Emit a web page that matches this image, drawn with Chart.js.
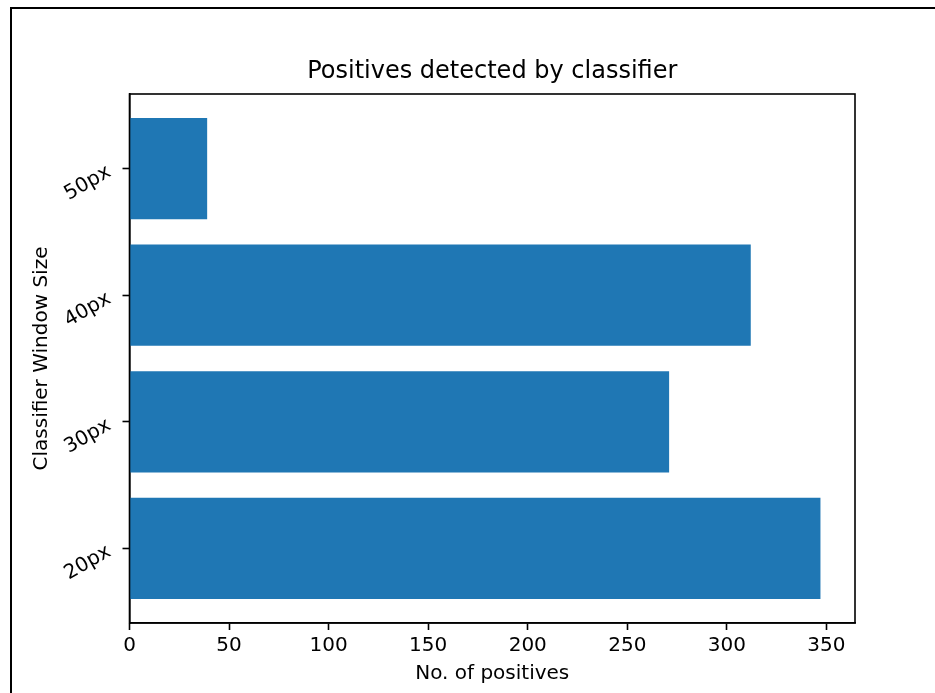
<!DOCTYPE html>
<html>
<head>
<meta charset="utf-8">
<script src="https://cdn.jsdelivr.net/npm/chart.js@4/dist/chart.umd.min.js"></script>
<style>
  html, body { margin: 0; padding: 0; background: #fff; }
  #wrap { position: relative; width: 935px; height: 693px; }
  canvas { display: block; }
</style>
</head>
<body>
<div id="wrap"><canvas id="c" width="935" height="693"></canvas></div>
<script>
// ---- data ----
const categories = ["20px", "30px", "40px", "50px"];
const positives = [347, 271, 312, 39];
const xTicks = [0, 50, 100, 150, 200, 250, 300, 350];
const chartTitle = "Positives detected by classifier";
const xTitle = "No. of positives";
const yTitle = "Classifier Window Size";

const FONT = "'DejaVu Sans', 'Liberation Sans', sans-serif";
const xMax = Math.max(...positives) * 1.05;
const yMin = -0.4 - 0.05 * (categories.length - 1 + 0.8);
const yMax = categories.length - 1 + 0.4 + 0.05 * (categories.length - 1 + 0.8);

const framePlugin = {
  id: 'frame',
  beforeDraw(chart) {
    const ctx = chart.ctx;
    ctx.save();
    ctx.fillStyle = '#fff';
    ctx.fillRect(0, 0, chart.width, chart.height);
    ctx.restore();
  },
  afterDraw(chart) {
    const ctx = chart.ctx;
    const a = chart.chartArea;
    ctx.save();
    ctx.strokeStyle = '#000';
    ctx.lineWidth = 1.6;
    ctx.strokeRect(a.left, a.top, a.right - a.left, a.bottom - a.top);
    // outer screenshot frame (top and left edges)
    ctx.lineWidth = 2;
    ctx.beginPath();
    ctx.moveTo(11, chart.height);
    ctx.lineTo(11, 8);
    ctx.lineTo(chart.width, 8);
    ctx.stroke();
    ctx.restore();
  }
};

new Chart(document.getElementById('c'), {
  type: 'bar',
  data: {
    datasets: [{
      data: positives.map((v, i) => ({ x: v, y: i })),
      backgroundColor: '#1f77b4',
      borderWidth: 0,
      barPercentage: 0.8,
      categoryPercentage: 1.0
    }]
  },
  options: {
    indexAxis: 'y',
    responsive: false,
    animation: false,
    devicePixelRatio: 1,
    layout: { padding: { left: 0, right: 80, top: 0, bottom: 0 } },
    plugins: {
      legend: { display: false },
      tooltip: { enabled: false },
      title: {
        display: true,
        fullSize: false,
        text: chartTitle,
        color: '#000',
        font: { family: FONT, size: 24, weight: 'normal' },
        padding: { top: 57.6, bottom: 7.6 }
      }
    },
    scales: {
      x: {
        type: 'linear',
        min: 0,
        max: xMax,
        offset: false,
        afterBuildTicks: (s) => { s.ticks = xTicks.map(v => ({ value: v })); },
        afterFit: (s) => { s.height = 70; },
        grid: { display: true, offset: false, drawOnChartArea: false, drawTicks: true, tickLength: 7, tickColor: '#000', tickWidth: 1.6 },
        border: { display: true, color: '#000', width: 1.6 },
        ticks: { color: '#000', padding: 4, font: { family: FONT, size: 20 }, maxRotation: 0, minRotation: 0 },
        title: { display: true, text: xTitle, color: '#000', font: { family: FONT, size: 20 }, padding: { top: 0, bottom: 7 } }
      },
      y: {
        type: 'linear',
        min: yMin,
        max: yMax,
        offset: false,
        afterBuildTicks: (s) => { s.ticks = categories.map((c, i) => ({ value: i })); },
        afterFit: (s) => { s.width = 129.5; },
        grid: { display: true, offset: false, drawOnChartArea: false, drawTicks: true, tickLength: 7, tickColor: '#000', tickWidth: 1.6 },
        border: { display: true, color: '#000', width: 1.6 },
        ticks: {
          color: '#000', padding: 13, labelOffset: 2, minRotation: 30, maxRotation: 30,
          font: { family: FONT, size: 20 },
          callback: (v) => categories[v] !== undefined ? categories[v] : ''
        },
        title: { display: true, text: yTitle, color: '#000', font: { family: FONT, size: 20 }, padding: { top: 30, bottom: 0 } }
      }
    }
  },
  plugins: [framePlugin]
});
</script>
</body>
</html>
